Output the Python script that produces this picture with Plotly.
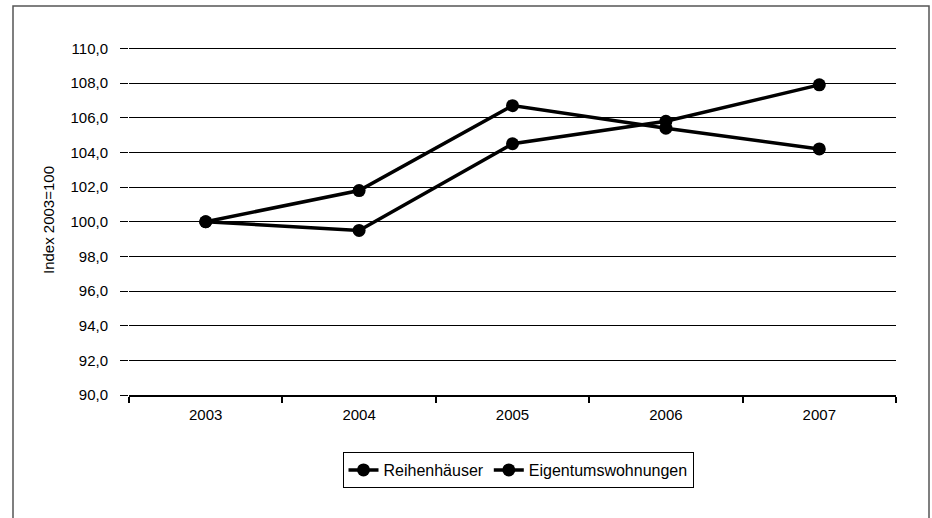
import plotly.graph_objects as go

years = ["2003", "2004", "2005", "2006", "2007"]
reihenhaeuser = [100.0, 101.8, 106.7, 105.4, 104.2]
eigentumswohnungen = [100.0, 99.5, 104.5, 105.8, 107.9]
y_ticks = [90, 92, 94, 96, 98, 100, 102, 104, 106, 108, 110]
y_tick_labels = ["90,0", "92,0", "94,0", "96,0", "98,0", "100,0", "102,0", "104,0", "106,0", "108,0", "110,0"]

FONT = "Liberation Sans, Arial, sans-serif"

fig = go.Figure()
for name, vals in [("Reihenhäuser", reihenhaeuser), ("Eigentumswohnungen", eigentumswohnungen)]:
    fig.add_trace(go.Scatter(
        x=years, y=vals, name=name, mode="lines+markers",
        line=dict(color="black", width=3.5),
        marker=dict(color="black", size=13),
        cliponaxis=False,
    ))

W, H = 932, 518
L, R, T, B = 129, 36, 45, 123
pw, ph = W - L - R, H - T - B

def px2paper_x(x):
    return (x - L) / pw

def px2paper_y(y):
    return (H - B - y) / ph

fig.add_shape(type="rect", xref="paper", yref="paper",
              x0=px2paper_x(13), x1=px2paper_x(929), y0=px2paper_y(530), y1=px2paper_y(6),
              line=dict(color="#555555", width=1.5), fillcolor="rgba(0,0,0,0)", layer="below")

fig.update_layout(
    width=W, height=H,
    margin=dict(l=L, r=R, t=T, b=B),
    paper_bgcolor="white", plot_bgcolor="white",
    font=dict(family=FONT, size=15, color="black"),
    showlegend=True,
    legend=dict(orientation="h", x=px2paper_x(518), xanchor="center", y=px2paper_y(470), yanchor="middle",
                bordercolor="black", borderwidth=1, font=dict(size=16, family=FONT),
                tracegroupgap=0),
    xaxis=dict(type="category", showgrid=False, showline=True, linecolor="black", linewidth=1.5,
               ticks="outside", tickson="boundaries", ticklen=6, tickcolor="black", tickwidth=1.5,
               tickfont=dict(size=15, family=FONT), ticklabelstandoff=5, range=[-0.5, 4.5]),
    yaxis=dict(range=[90, 110.2], tickvals=y_ticks, ticktext=y_tick_labels,
               showgrid=True, gridcolor="black", gridwidth=1.3, zeroline=False, showline=False,
               ticks="outside", ticklen=8, tickcolor="black", tickwidth=1.3,
               tickfont=dict(size=15, family=FONT), ticklabelstandoff=9,
               title=dict(text="Index 2003=100", font=dict(size=15, family=FONT), standoff=12)),
)

fig.write_html("out.html", config={"displayModeBar": False},
               post_script="document.body.style.margin='0';")
